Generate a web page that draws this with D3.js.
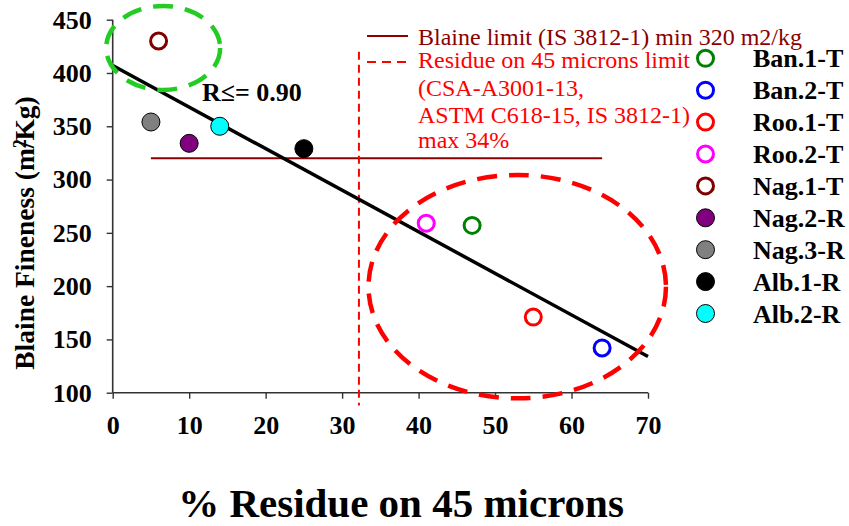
<!DOCTYPE html>
<html><head><meta charset="utf-8">
<script src="https://cdn.jsdelivr.net/npm/d3@7"></script>
<style>
html,body{margin:0;padding:0;background:#fff;}
svg{display:block;font-family:"Liberation Serif","Times New Roman",serif;}
</style></head>
<body>
<svg id="chart" width="849" height="526"></svg>
<script>
// ---- data ----
const seriesNames = ["Ban.1-T","Ban.2-T","Roo.1-T","Roo.2-T","Nag.1-T","Nag.2-R","Nag.3-R","Alb.1-R","Alb.2-R"];
const residue     = [47, 64, 55, 41, 6, 10, 5, 25, 14];
const blaine      = [257, 142, 171, 259, 430, 334, 354, 329, 350];
const seriesColor = ["#008000","#0000ff","#ff0000","#ff00ff","#800000","#800080","#808080","#000000","#00ffff"];
const seriesFilled= [false,false,false,false,false,true,true,true,true];
const xTicks = [0,10,20,30,40,50,60,70];
const yTicks = [100,150,200,250,300,350,400,450];
const trendX = [0, 70];
const trendY = [407, 134];
const blaineLimit = 320;
const blaineLimitRange = [5, 64];
const residueLimit = 32.2;
const residueLimitRange = [88, 420];
const greenEllipse = {cx: 6.6, cy: 423.5, rx: 7.45, ry: 39.4};
const redEllipse = {cx: 52.9, cy: 199.5, rx: 19.45, ry: 104.8};
const rLabel = "R≤= 0.90";
const blaineLegend = "Blaine limit (IS 3812-1) min 320 m2/kg";
const residueLegend = ["Residue on 45 microns limit","(CSA-A3001-13,","ASTM C618-15, IS 3812-1)","max 34%"];

// ---- scales ----
const svg = d3.select("#chart");
const x = d3.scaleLinear().domain([0,70]).range([112.7,648]);
const y = d3.scaleLinear().domain([100,450]).range([392.7,19.7]);

// axes
const yAxis = svg.append("g").attr("transform","translate(112.7,0)")
  .call(d3.axisLeft(y).tickValues(yTicks).tickSize(6).tickPadding(15).tickFormat(d3.format("d")));
const xAxis = svg.append("g").attr("transform","translate(0,392.7)")
  .call(d3.axisBottom(x).tickValues(xTicks).tickSize(6).tickPadding(17).tickFormat(d3.format("d")));
[yAxis,xAxis].forEach(a=>{
  a.select(".domain").attr("stroke","#333").attr("stroke-width",1.6);
  a.selectAll(".tick line").attr("stroke","#333").attr("stroke-width",1.4);
  a.selectAll(".tick text").attr("fill","#000").attr("font-family","Liberation Serif")
    .attr("font-weight","bold").attr("font-size",26);
});
yAxis.select(".domain").attr("d",`M0,${y(100)}V${y(450)}`);
xAxis.select(".domain").attr("d",`M${x(0)},0H${x(70)}`);

// Blaine limit line
svg.append("line")
  .attr("x1",x(blaineLimitRange[0])).attr("x2",x(blaineLimitRange[1]))
  .attr("y1",y(blaineLimit)).attr("y2",y(blaineLimit))
  .attr("stroke","#8b0000").attr("stroke-width",2);

// residue limit line
svg.append("line")
  .attr("x1",x(residueLimit)).attr("x2",x(residueLimit))
  .attr("y1",y(residueLimitRange[1])).attr("y2",y(residueLimitRange[0]))
  .attr("stroke","#ff0000").attr("stroke-width",2).attr("stroke-dasharray","8,5");

// trend line
svg.append("line")
  .attr("x1",x(trendX[0])).attr("y1",y(trendY[0]))
  .attr("x2",x(trendX[1])).attr("y2",y(trendY[1]))
  .attr("stroke","#000").attr("stroke-width",3.5);

// ellipses
function ell(e,color){
  svg.append("ellipse")
    .attr("cx",x(e.cx)).attr("cy",y(e.cy))
    .attr("rx",x(e.cx+e.rx)-x(e.cx)).attr("ry",y(e.cy)-y(e.cy+e.ry))
    .attr("fill","none").attr("stroke",color).attr("stroke-width",4.5)
    .attr("stroke-dasharray","20,12");
}
ell(greenEllipse,"#22cc22");
ell(redEllipse,"#ff0000");

// points
const idx = d3.range(seriesNames.length);
svg.append("g").selectAll("circle").data(idx).join("circle")
  .attr("cx",i=>x(residue[i])).attr("cy",i=>y(blaine[i]))
  .attr("r",i=>seriesFilled[i]?9:8)
  .attr("fill",i=>seriesFilled[i]?seriesColor[i]:"none")
  .attr("stroke",i=>seriesFilled[i]?"#000":seriesColor[i])
  .attr("stroke-width",i=>seriesFilled[i]?1:3);

// R label
svg.append("text").attr("x",202).attr("y",101)
  .attr("font-weight","bold").attr("font-size",26).text(rLabel);

// legend (series)
const lg = svg.append("g");
idx.forEach(i=>{
  const cy = 58.3 + i*31.9;
  lg.append("circle").attr("cx",705.5).attr("cy",cy)
    .attr("r",seriesFilled[i]?9:8)
    .attr("fill",seriesFilled[i]?seriesColor[i]:"none")
    .attr("stroke",seriesFilled[i]?"#000":seriesColor[i])
    .attr("stroke-width",seriesFilled[i]?1:3);
  lg.append("text").attr("x",753).attr("y",cy).attr("dy","0.35em")
    .attr("font-weight","bold").attr("font-size",26).text(seriesNames[i]);
});

// legend (limits)
svg.append("line").attr("x1",367).attr("x2",408).attr("y1",36).attr("y2",36)
  .attr("stroke","#8b0000").attr("stroke-width",2);
svg.append("text").attr("x",418).attr("y",45).attr("font-size",24).attr("fill","#8b0000").text(blaineLegend);
svg.append("line").attr("x1",367).attr("x2",408).attr("y1",62).attr("y2",62)
  .attr("stroke","#ff0000").attr("stroke-width",2).attr("stroke-dasharray","9,6");
const rb = [67.7, 96, 123.3, 148.3];
residueLegend.forEach((t,i)=>{
  svg.append("text").attr("x",418).attr("y",rb[i]).attr("font-size",24).attr("fill","#ff0000").text(t);
});

// axis titles
svg.append("text").attr("x",401).attr("y",517).attr("text-anchor","middle")
  .attr("font-weight","bold").attr("font-size",41).text("% Residue on 45 microns");
const yt = svg.append("text").attr("transform","translate(33.5,233) rotate(-90)")
  .attr("text-anchor","middle").attr("font-weight","bold").attr("font-size",27.5);
yt.append("tspan").text("Blaine Fineness (m");
yt.append("tspan").attr("font-size",18).attr("dy",-8).text("2");
yt.append("tspan").attr("dy",8).attr("dx",-9).text("/Kg)");
</script>
</body></html>
